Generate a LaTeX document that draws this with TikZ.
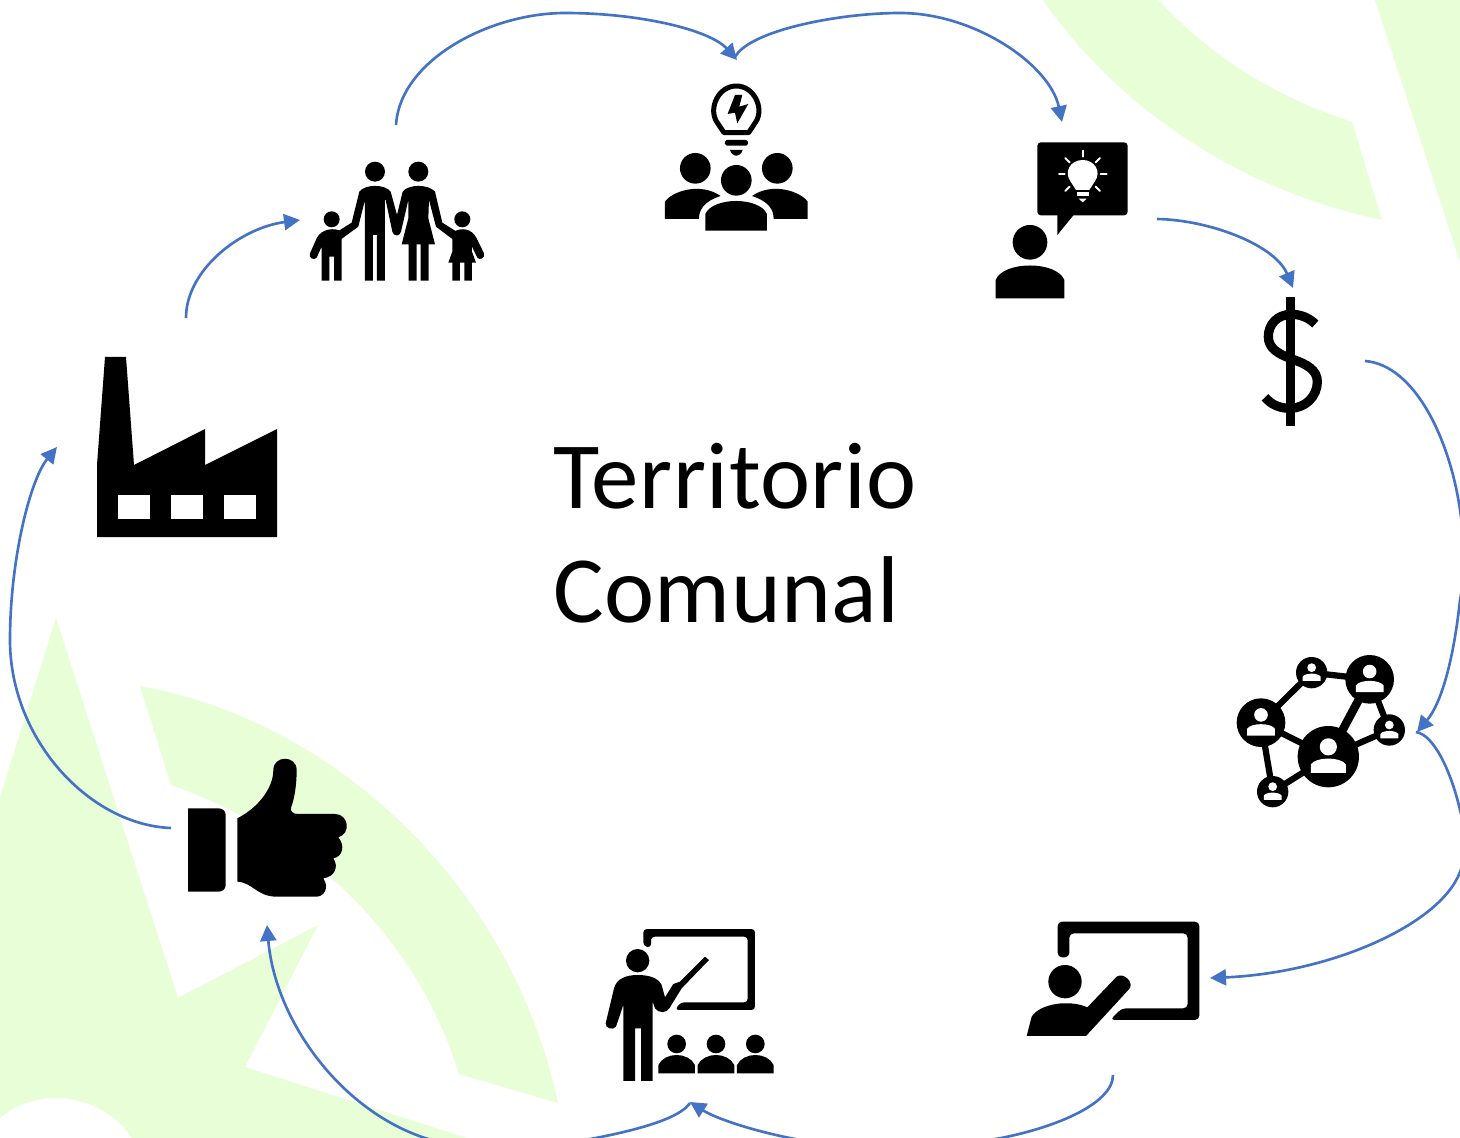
\documentclass[tikz,border=0pt]{standalone}
\usepackage{fontspec}
\setmainfont{Carlito}[LetterSpace=0.6]
\usetikzlibrary{arrows.meta}
\definecolor{leaf}{RGB}{232,254,214}
\definecolor{flowblue}{RGB}{68,114,196}
\tikzset{
	flow/.style = {color=flowblue, line width=1.5pt, -{Triangle[length=3.2mm,width=3.2mm]}},
	icon/.style = {fill=black},
	hole/.style = {fill=white},
	rayline/.style = {draw=white, line width=1.1pt, line cap=round}
}

\begin{document}
\begin{tikzpicture}[x=0.02cm,y=-0.02cm]
	\useasboundingbox (0,0) rectangle (1460,1138);
	\clip (0,0) rectangle (1460,1138);
	\fill[white] (0,0) rectangle (1460,1138);

	% background
	\fill[leaf] (1043,0) .. controls (1120,110) and (1240,190) .. (1382,220) -- (1352,122) .. controls (1270,95) and (1210,55) .. (1158,0) -- cycle;
	\fill[leaf] (1375,0) -- (1460,262) -- (1460,0) -- cycle;
	\fill[leaf] (140,686) .. controls (330,720) and (510,880) .. (558,1103) -- (459,1074) .. controls (415,930) and (300,830) .. (171,785) -- cycle;
	\fill[leaf] (0,797) -- (56,618) -- (178,998) -- (318,925) -- (245,1067) -- (467,1138) -- (132,1138) .. controls (115,1112) and (85,1098) .. (56,1098) .. controls (35,1098) and (15,1105) .. (0,1118) -- cycle;

	% title
	\node[font=\fontsize{54}{65.2}\selectfont, align=left, anchor=west] (title) at (547,533) {Territorio\\Comunal};

	% factory
	\fill[icon] (97,537) -- (97,465) -- (105,357) -- (126,357) -- (134,465) -- (205,429) -- (205,465) -- (277,429) -- (277,537) -- cycle;
	\foreach \xWin in {118,171,224}
		\fill[hole] (\xWin,495) rectangle ++(32,24);

	% family
	\begin{scope}[shift={(300,80)},scale=0.3333]
		\fill[icon] (225,275) circle (30) (355,275) circle (30) (95,418) circle (24) (487,418) circle (24);
		\fill[icon] (195,602) -- (195,360) -- (175,440) -- (123,478) -- (112,455) -- (155,428) -- (178,335) .. controls (195,312) and (255,312) .. (272,335) -- (291,405) -- (308,335) .. controls (325,312) and (385,312) .. (405,335) -- (427,428) -- (470,455) -- (458,478) -- (408,440) -- (387,360) -- (385,415) -- (405,493) -- (386,493) -- (386,602) -- (362,602) -- (362,493) -- (350,493) -- (350,602) -- (326,602) -- (326,493) -- (305,493) -- (325,415) -- (325,360) -- (303,455) .. controls (300,470) and (280,470) .. (277,455) -- (257,360) -- (255,360) -- (255,602) -- (231,602) -- (231,465) -- (219,465) -- (219,602) -- cycle;
		\fill[icon] (65,602) -- (65,500) -- (50,533) .. controls (42,542) and (25,535) .. (30,520) -- (50,475) .. controls (65,445) and (105,442) .. (125,455) -- (125,602) -- (102,602) -- (102,530) -- (88,530) -- (88,602) -- cycle;
		\fill[icon] (462,455) .. controls (485,442) and (515,445) .. (530,475) -- (552,520) .. controls (556,535) and (538,542) .. (532,533) -- (516,500) -- (516,515) -- (528,548) -- (516,548) -- (516,602) -- (493,602) -- (493,548) -- (480,548) -- (480,602) -- (457,602) -- (457,548) -- (445,548) -- (457,515) -- (457,478) -- cycle;

		% group with idea
		\draw[line width=1mm, line join=round] (1272,158) -- (1250,125) .. controls (1225,85) and (1255,18) .. (1309,18) .. controls (1363,18) and (1393,85) .. (1368,125) -- (1346,158) -- cycle;
		\fill[icon] (1305,45) -- (1283,102) -- (1305,98) -- (1312,130) -- (1345,72) -- (1318,80) -- (1327,45) -- cycle;
		\fill[icon, rounded corners=1pt] (1275,180) rectangle (1344,197);
		\fill[icon] (1290,210) -- (1328,210) .. controls (1325,222) and (1315,227) .. (1309,227) .. controls (1303,227) and (1293,222) .. (1290,210) -- cycle;
		\fill[icon] (1186,265) circle (46) (1432,265) circle (46) (1309,301) circle (46);
		\fill[icon] (1095,417) -- (1095,365) .. controls (1115,335) and (1200,305) .. (1262,348) .. controls (1210,365) and (1197,390) .. (1197,417) -- cycle;
		\fill[icon] (1523,417) -- (1523,365) .. controls (1503,335) and (1418,305) .. (1356,348) .. controls (1408,365) and (1421,390) .. (1421,417) -- cycle;
		\fill[icon] (1216,452) -- (1216,402) .. controls (1240,350) and (1377,350) .. (1401,402) -- (1401,452) -- cycle;
	\end{scope}

	% person with speech bubble
	\begin{scope}[shift={(980,130)},scale=0.3333]
		\fill[icon, rounded corners=2pt] (172,37) rectangle (443,256);
		\fill[icon] (232,250) -- (232,315) -- (285,250) -- cycle;
		\fill[hole] (288,180) -- (272,155) .. controls (250,125) and (272,90) .. (308,90) .. controls (344,90) and (366,125) .. (344,155) -- (328,180) -- cycle;
		\fill[hole] (290,187) rectangle (326,197);
		\fill[hole] (296,206) -- (320,206) -- (308,217) -- cycle;
		\foreach \xa/\ya/\xb/\yb in {308/62/308/80, 256/84/269/97, 360/84/347/97, 237/133/254/133, 362/133/380/133, 256/183/269/170, 360/183/347/170}
			\draw[rayline] (\xa,\ya) -- (\xb,\yb);
		\fill[icon] (150,337) circle (52);
		\fill[icon] (47,505) -- (47,450) .. controls (70,392) and (230,392) .. (253,450) -- (253,505) -- cycle;
	\end{scope}

	% dollar
	\begin{scope}[shift={(1240,280)},scale=0.3333]
		\fill[icon] (138,50) rectangle (166,438);
		\draw[line width=1.85mm] (226,132) .. controls (205,112) and (180,103) .. (155,103) .. controls (110,103) and (85,135) .. (85,170) .. controls (85,205) and (115,222) .. (155,237) .. controls (200,252) and (232,270) .. (232,305) .. controls (232,350) and (195,385) .. (150,385) .. controls (120,385) and (95,375) .. (75,352);
	\end{scope}

	% network
	\begin{scope}[shift={(1220,640)},scale=0.3333]
		\coordinate (nA) at (123,248);
		\coordinate (nB) at (275,98);
		\coordinate (nC) at (449,118);
		\coordinate (nD) at (508,270);
		\coordinate (nE) at (325,350);
		\coordinate (nF) at (158,455);
		\foreach \p/\q in {nA/nB, nB/nC, nC/nD, nD/nE, nA/nE, nA/nF, nF/nE}
			\draw[line width=1.25mm] (\p) -- (\q);
		\draw[line width=1.7mm] (nC) -- (nE);
		\foreach \cx/\cy/\rr in {123/248/73, 275/98/47, 449/118/73, 508/270/47, 325/350/92, 158/455/47} {
			\fill[icon] (\cx,\cy) circle (\rr);
			\begin{scope}[shift={(\cx,\cy)},scale=\rr/100]
				\fill[hole] (0,-32) circle (28);
				\fill[hole] (-57,53) -- (-57,25) .. controls (-40,0) and (40,0) .. (57,25) -- (57,53) -- cycle;
			\end{scope}
		}
	\end{scope}

	% presenter
	\begin{scope}[shift={(1010,910)},scale=0.3333]
		\fill[icon, rounded corners=2.5pt] (143,142) -- (143,35) -- (568,35) -- (568,330) -- (300,330) -- (335,295) -- (533,295) -- (533,70) -- (178,70) -- (178,142) -- cycle;
		\fill[icon] (165,215) circle (50);
		\fill[icon] (50,378) -- (65,320) .. controls (90,280) and (180,268) .. (232,292) -- (320,200) .. controls (340,185) and (378,220) .. (355,240) -- (228,378) -- cycle;
	\end{scope}

	% teacher
	\begin{scope}[shift={(590,910)},scale=0.3333]
		\fill[icon, rounded corners=2pt] (160,108) -- (160,57) -- (495,57) -- (495,300) -- (255,300) -- (272,277) -- (473,277) -- (473,80) -- (183,80) -- (183,113) -- cycle;
		\fill[icon] (143,152) circle (35);
		\fill[icon] (100,513) -- (100,285) -- (78,350) .. controls (70,362) and (45,355) .. (47,340) -- (72,235) .. controls (80,205) and (110,195) .. (143,195) .. controls (180,195) and (205,205) .. (215,225) -- (225,262) -- (250,222) -- (270,215) -- (345,140) -- (357,150) -- (275,235) -- (238,295) .. controls (230,310) and (205,310) .. (195,295) -- (188,275) -- (188,513) -- (153,513) -- (153,355) -- (135,355) -- (135,513) -- cycle;
		\foreach \xOff in {0,118,236} {
			\fill[icon] (260+\xOff,402) circle (28);
			\fill[icon] (205+\xOff,490) -- (205+\xOff,465) .. controls (225+\xOff,425) and (295+\xOff,425) .. (315+\xOff,465) -- (315+\xOff,490) -- cycle;
		}
	\end{scope}

	% thumb
	\begin{scope}[shift={(170,750)},scale=0.3333]
		\fill[icon] (54,175) -- (54,425) -- (145,425) .. controls (158,425) and (167,417) .. (167,405) -- (167,195) .. controls (167,183) and (158,175) .. (145,175) -- cycle;
		\fill[icon] (202,205) .. controls (270,170) and (310,110) .. (310,60) .. controls (310,15) and (380,15) .. (380,60) .. controls (380,110) and (372,150) .. (364,170) .. controls (358,185) and (370,192) .. (385,192) -- (495,192) .. controls (535,192) and (545,250) .. (505,262) .. controls (525,285) and (520,320) .. (490,325) .. controls (507,350) and (495,380) .. (460,385) .. controls (480,415) and (460,440) .. (440,440) -- (320,440) .. controls (260,440) and (250,398) .. (202,395) -- cycle;
	\end{scope}

	% connector ends
	\coordinate (factoryOut) at (186,318);
	\coordinate (familyIn) at (300,220);
	\coordinate (familyOut) at (396,125);
	\coordinate (groupTop) at (737,60);
	\coordinate (groupOut) at (735,57);
	\coordinate (speakerIn) at (1062,122);
	\coordinate (speakerOut) at (1157,219);
	\coordinate (dollarIn) at (1293,288);
	\coordinate (dollarOut) at (1365,361);
	\coordinate (networkIn) at (1417,732);
	\coordinate (networkOut) at (1416,732);
	\coordinate (presenterIn) at (1210,978);
	\coordinate (presenterOut) at (1113,1075);
	\coordinate (teacherIn) at (690,1102);
	\coordinate (teacherOut) at (690,1103);
	\coordinate (thumbIn) at (267,925);
	\coordinate (thumbOut) at (171,828);
	\coordinate (factoryIn) at (57,447);

	% connectors
	\draw[flow] (factoryOut) .. controls (186,270) and (240,228) .. (familyIn);
	\draw[flow] (familyOut) .. controls (400,60) and (490,13) .. (565,13) .. controls (640,13) and (710,30) .. (groupTop);
	\draw[flow] (groupOut) .. controls (750,30) and (840,13) .. (900,13) .. controls (975,13) and (1050,65) .. (speakerIn);
	\draw[flow] (speakerOut) .. controls (1210,220) and (1275,245) .. (dollarIn);
	\draw[flow] (dollarOut) .. controls (1415,365) and (1450,440) .. (1460,510) .. controls (1466,550) and (1464,580) .. (1460,600) .. controls (1453,665) and (1440,705) .. (networkIn);
	\draw[flow] (networkOut) .. controls (1435,735) and (1452,775) .. (1460,810) .. controls (1468,840) and (1467,855) .. (1460,872) .. controls (1440,925) and (1330,973) .. (presenterIn);
	\draw[flow] (presenterOut) .. controls (1113,1105) and (1050,1130) .. (990,1140) .. controls (930,1152) and (850,1150) .. (790,1138) .. controls (750,1130) and (715,1118) .. (teacherIn);
	\draw[flow] (teacherOut) .. controls (680,1118) and (640,1130) .. (585,1140) .. controls (540,1147) and (480,1155) .. (425,1138) .. controls (340,1110) and (275,1020) .. (thumbIn);
	\draw[flow] (thumbOut) .. controls (90,825) and (10,740) .. (10,640) .. controls (10,560) and (30,480) .. (factoryIn);
\end{tikzpicture}
\end{document}
